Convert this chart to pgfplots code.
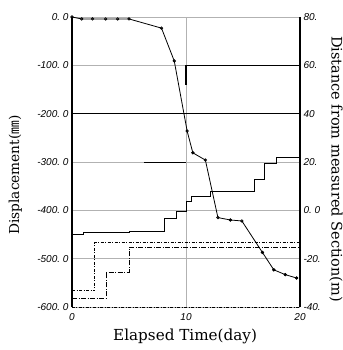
\documentclass[border=0pt]{standalone}
\usepackage{pgfplots}
\pgfplotsset{compat=1.18}
\usepackage{fontspec}
\setmainfont{DejaVu Serif}
\newfontfamily\tickfont{Liberation Sans}
\newfontfamily\cjk{Noto Sans CJK JP}
\begin{document}
\begin{tikzpicture}
\begin{axis}[
  name=L,
  scale only axis, width=228pt, height=290pt,
  xmin=0, xmax=20, ymin=-600, ymax=0,
  axis y line*=left, axis x line*=bottom,
  xtick={0,10,20}, xticklabels={0,10,20},
  ytick={-600,-500,-400,-300,-200,-100,0},
  yticklabels={{-600.\ 0},{-500.\ 0},{-400.\ 0},{-300.\ 0},{-200.\ 0},{-100.\ 0},{0.\ 0}},
  tick label style={font=\tickfont\itshape\fontsize{10}{12}\selectfont},
  xticklabel style={yshift=-3pt},
  tick style={draw=none},
  ymajorgrids, xmajorgrids, grid style={gray!60, line width=0.7pt},
  y axis line style={line width=1.1pt},
  x axis line style={line width=0.8pt, dash pattern=on 3pt off 1.5pt on 1pt off 1.5pt},
  xlabel={Elapsed Time(day)},
  ylabel={Displacement({\cjk ㎜})},
  xlabel style={font=\fontsize{15.2}{18}\selectfont, at={(axis description cs:0.496,-0.103)}, anchor=center},
  ylabel style={font=\fontsize{13.7}{16}\selectfont, at={(axis description cs:-0.248,0.455)}, anchor=center},
  clip=false,
]
\addplot[black, line width=1pt, forget plot] coordinates {(0,-200) (20,-200)};
\addplot[black, line width=1pt, forget plot] coordinates {(10,-100) (20,-100)};
\addplot[black, line width=0.9pt, forget plot] coordinates {(6.3,-300) (10,-300)};
\addplot[black, line width=1.6pt, forget plot] coordinates {(10,-100) (10,-140)};
\addplot[black, line width=0.8pt, mark=o, mark size=1.2pt, mark options={solid, fill=white}]
coordinates {
(0,0) (0.85,-4) (1.8,-4) (2.95,-4) (4.0,-4) (5.0,-4) (7.85,-23) (8.97,-91)
(10.1,-236) (10.6,-281) (11.7,-296) (12.8,-415) (13.9,-420) (14.9,-422)
(16.7,-487) (17.7,-523) (18.7,-533) (19.7,-540)
};
\addplot[only marks, black, mark=*, mark size=1.2pt]
coordinates {(10.6,-281) (13.9,-420) (16.7,-487) (17.7,-523) (18.7,-533) (19.7,-540)};
\end{axis}
\begin{axis}[
  scale only axis, width=228pt, height=290pt,
  xmin=0, xmax=20, ymin=-40, ymax=80,
  axis y line*=right, axis x line=none,
  ytick={-40,-20,0,20,40,60,80},
  yticklabels={{-40.},{-20.},{0.\ 0},{20.},{40},{60.},{80.}},
  tick label style={font=\tickfont\itshape\fontsize{10}{12}\selectfont},
  tick style={draw=none},
  y axis line style={line width=1.1pt},
  ylabel={Distance from measured Section(m)},
  ylabel style={font=\fontsize{14.5}{17}\selectfont, at={(axis description cs:1.158,0.476)}, anchor=center, rotate=180},
  clip=false,
]
\addplot[black, line width=0.9pt, const plot] coordinates {
(0,-9.9) (1,-9.3) (5,-8.6) (8.1,-3.4) (9.2,-0.3) (10,3.8) (10.5,5.6) (12.15,7.7)
(16,12.8) (16.9,19.4) (17.9,21.7) (20,21.7)
};
\addplot[black, line width=0.9pt, const plot, dash pattern=on 3pt off 1.5pt on 1pt off 1.5pt] coordinates {
(0,-33.3) (2,-13.3) (20,-13.3)
};
\addplot[black, line width=0.9pt, const plot, dash pattern=on 5pt off 1.5pt on 1pt off 1.5pt] coordinates {
(0,-36.4) (3,-25.5) (5,-15.4) (20,-15.4)
};
\end{axis}
\pgfresetboundingbox
\useasboundingbox (L.south west) ++(-72pt,-43pt) rectangle ++(342pt,350pt);
\end{tikzpicture}
\end{document}
